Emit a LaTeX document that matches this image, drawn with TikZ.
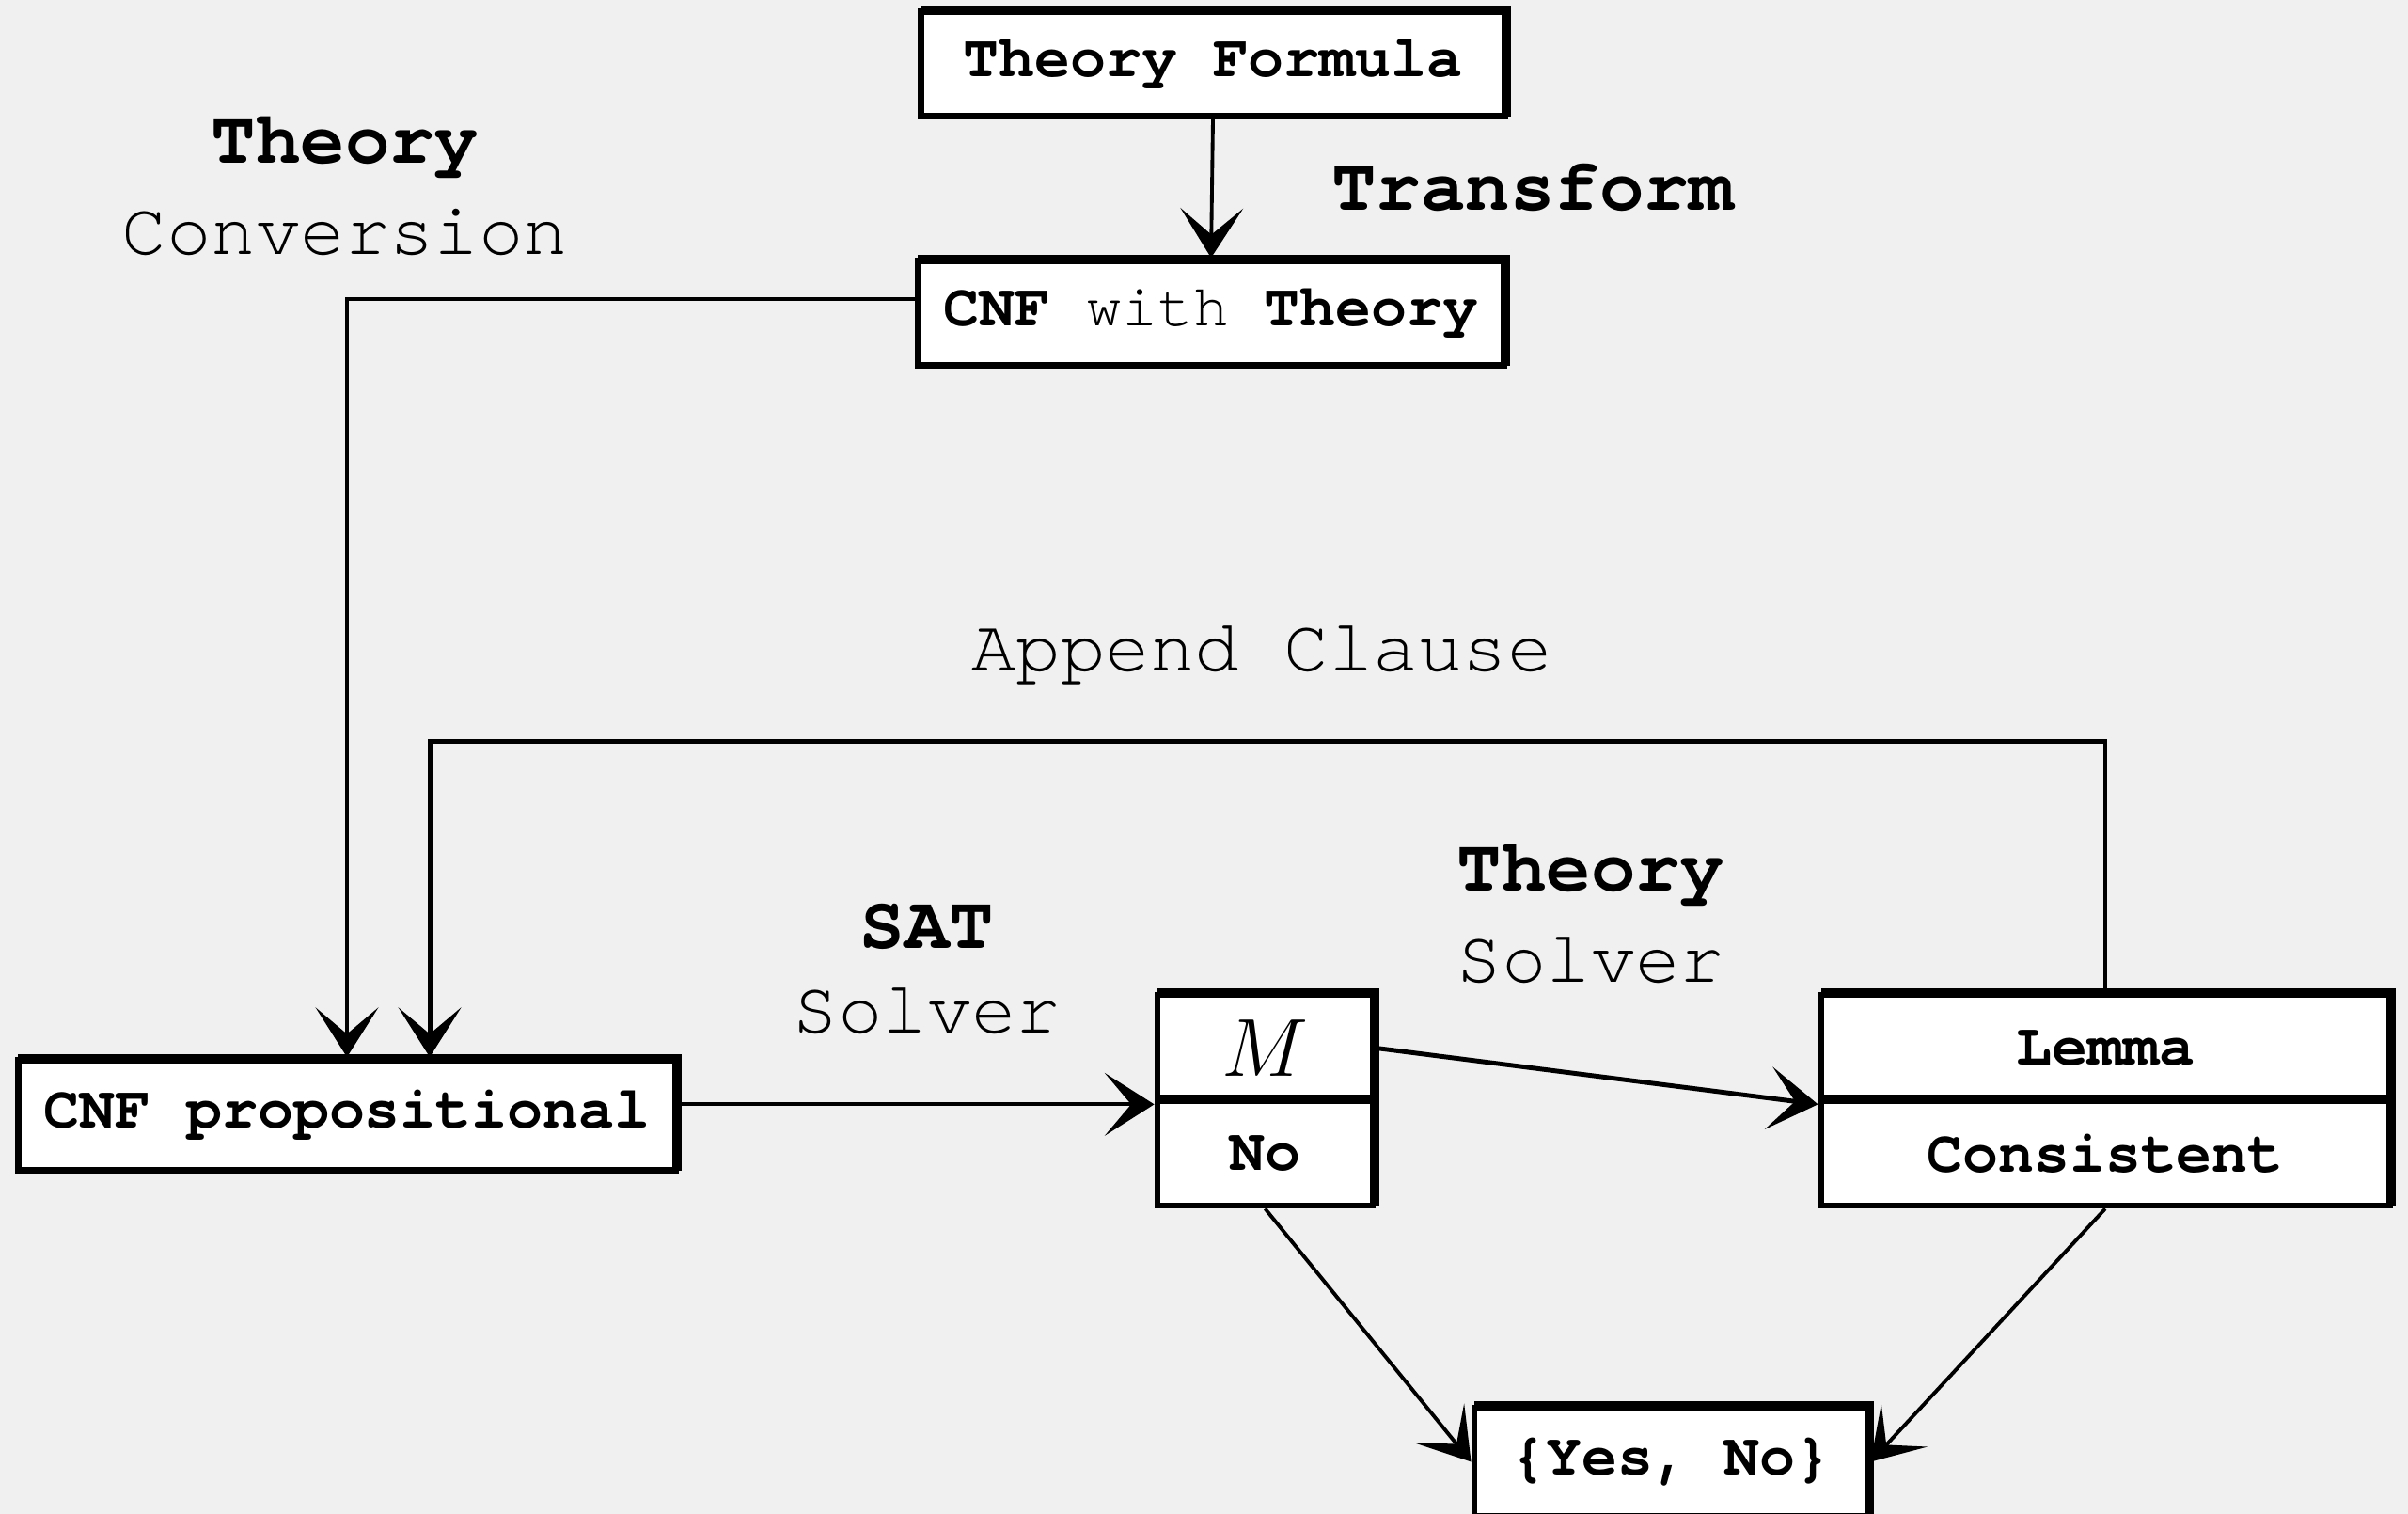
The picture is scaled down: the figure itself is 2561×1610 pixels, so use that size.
\documentclass[tikz,border=0pt]{standalone}
\usepackage{fontspec}
\setmonofont{TeX Gyre Cursor}
\usetikzlibrary{arrows.meta,shadows}

\definecolor{paper}{RGB}{240,240,240}
\newcommand\boxfont{\fontsize{18}{22}\selectfont\ttfamily}
\newcommand\lblfont{\fontsize{22.5}{27}\selectfont\ttfamily}

\begin{document}
\begin{tikzpicture}[x=0.01cm, y=-0.01cm,
  box/.style={draw=black, line width=1.9pt, fill=white, inner sep=0pt,
    font=\boxfont, align=center,
    copy shadow={shadow xshift=0.9pt, shadow yshift=0.9pt}},
  lbl/.style={font=\lblfont, inner sep=0pt, align=center},
  conn/.style={draw=black, line width=1.1pt,
    -{Stealth[length=15pt, width=19pt, inset=8pt]}}
]
% canvas
\fill[paper] (0,0) rectangle (2561,1610);
\useasboundingbox (0,0) rectangle (2561,1610);

% boxes
\node[box, minimum width=6.2cm, minimum height=1.11cm] (tf) at (1290,68)
  {\bfseries Theory Formula};
\node[box, minimum width=6.23cm, minimum height=1.11cm] (cwt) at (1288,333)
  {{\bfseries CNF} with {\bfseries Theory}};
\node[box, minimum width=6.99cm, minimum height=1.17cm] (cnfp) at (369,1186)
  {\bfseries CNF propositional};

\node[box, minimum width=2.29cm, minimum height=1.13cm] (m) at (1345.5,1114.5)
  {\fontsize{27}{30}\selectfont$M$};
\node[box, minimum width=2.29cm, minimum height=1.11cm] (no) at (1345.5,1226.5)
  {\bfseries No};

\node[box, minimum width=6.04cm, minimum height=1.13cm] (lem) at (2239,1114.5)
  {\bfseries Lemma};
\node[box, minimum width=6.04cm, minimum height=1.11cm] (cons) at (2239,1226.5)
  {\bfseries Consistent};

\node[box, minimum width=4.18cm, minimum height=1.15cm] (yn) at (1777,1554.5)
  {\bfseries \{Yes, No\}};

% labels
\node[lbl] (lconv1) at (367,157) {\bfseries Theory};
\node[lbl] (lconv2) at (367,247) {Conversion};
\node[lbl] (ltrans) at (1630,199) {\bfseries Transform};
\node[lbl] (lapp) at (1342,697) {Append Clause};
\node[lbl] (lsat1) at (986,985) {\bfseries SAT};
\node[lbl] (lsat2) at (986,1075) {Solver};
\node[lbl] (lth1) at (1692,931) {\bfseries Theory};
\node[lbl] (lth2) at (1692,1021) {Solver};

% connectors
\draw[conn] (tf.south) -- (cwt.north);
\draw[conn] ([yshift=0.15cm]cwt.west) -| (cnfp.north);
\draw[conn, line width=1.4pt] (lem.north) -- ++(0,-266) -| ([xshift=0.88cm]cnfp.north);
\draw[conn] (cnfp.east |- m.south) -- (m.south west);
\draw[conn, line width=1.4pt] (m.east) -- (lem.south west);
\draw[conn] (no.south) -- (yn.west);
\draw[conn] (cons.south) -- (yn.east);
\end{tikzpicture}
\end{document}
